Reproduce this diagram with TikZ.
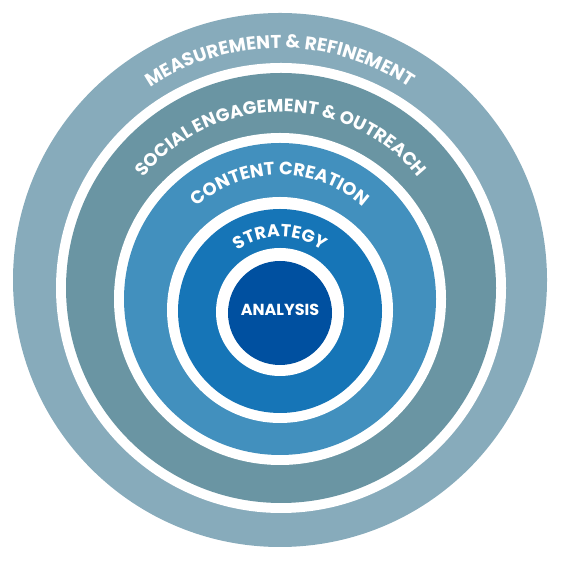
\documentclass[tikz,border=0pt]{standalone}
\usepackage{fontspec}
\setmainfont{Poppins}
\usetikzlibrary{decorations.text}
\definecolor{cMeas}{HTML}{87ABBB}
\definecolor{cSoc}{HTML}{6A95A3}
\definecolor{cCont}{HTML}{4290BE}
\definecolor{cStrat}{HTML}{1675B7}
\definecolor{cAna}{HTML}{0050A0}
\newcommand{\ringfont}{\fontsize{18.5}{20}\selectfont\bfseries\color{white}}
\newcommand{\ringfontb}{\fontsize{18}{20}\selectfont\bfseries\color{white}}
\newcommand{\ringfontc}{\fontsize{17.5}{20}\selectfont\bfseries\color{white}}
\tikzset{
  ringtext/.style={decorate, decoration={text along path, text align=center}}
}
\begin{document}
\begin{tikzpicture}[x=1pt,y=1pt]
\useasboundingbox (0,0) rectangle (561,561);
\fill[cMeas] (280,281) circle[radius=267];
\fill[white] (281,273) circle[radius=225];
\fill[cSoc] (281,273) circle[radius=215];
\fill[white] (280,262) circle[radius=166];
\fill[cCont] (280,262) circle[radius=156];
\fill[white] (280,251) circle[radius=113];
\fill[cStrat] (280,250) circle[radius=102];
\fill[white] (280,249) circle[radius=64];
\fill[cAna] (280,248) circle[radius=52];
\node[anchor=base, text=white, font=\fontsize{16}{18}\selectfont\bfseries] (analysis) at (280,245) {ANALYSIS};
\path[ringtext, decoration={text={|\ringfont|MEASUREMENT {\&} REFINEMENT}}] (280,281) ++(180:232) arc[start angle=180, end angle=0, radius=232];
\path[ringtext, decoration={text={|\ringfontb|SOCIAL ENGAGEMENT {\&} OUTREACH}}] (281,273) ++(180:176) arc[start angle=180, end angle=0, radius=176];
\path[ringtext, decoration={text={|\ringfontb|CONTENT CREATION}}] (280,262) ++(180:124) arc[start angle=180, end angle=0, radius=124];
\path[ringtext, decoration={text={|\ringfontc|STRATEGY}}] (280,250) ++(180:74) arc[start angle=180, end angle=0, radius=74];
\end{tikzpicture}
\end{document}
